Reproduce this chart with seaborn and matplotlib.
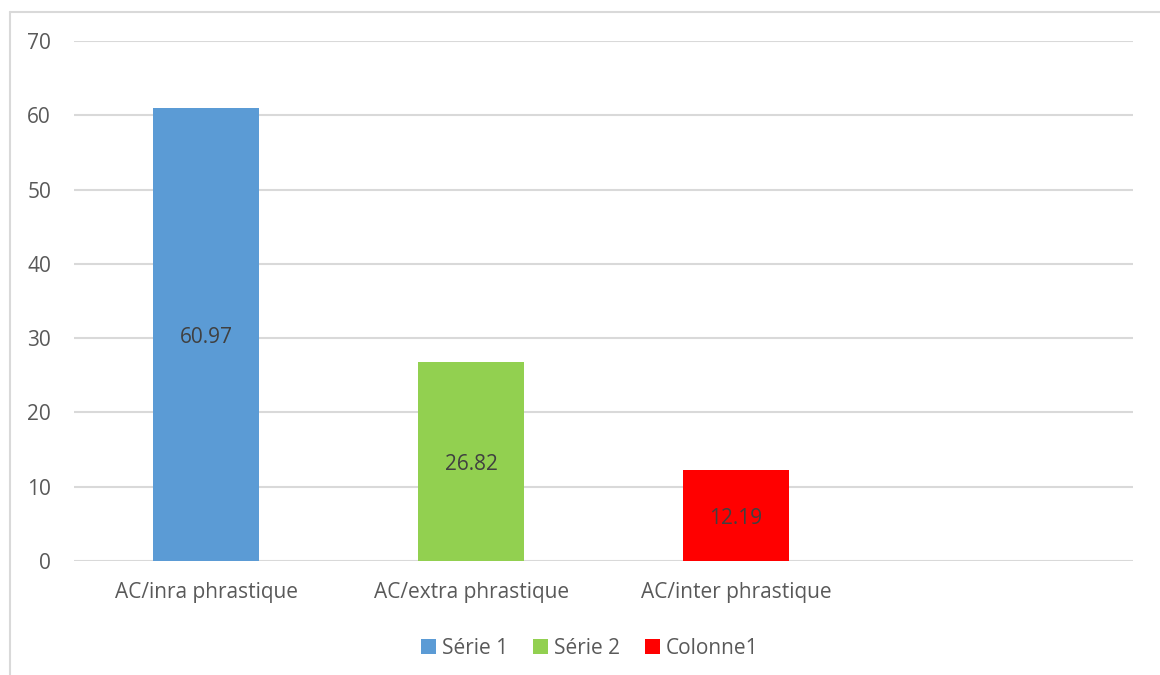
import matplotlib
matplotlib.use("Agg")
import matplotlib.pyplot as plt
import seaborn as sns
import pandas as pd
from matplotlib.lines import Line2D

categories = ["AC/inra phrastique", "AC/extra phrastique", "AC/inter phrastique"]
values = [60.97, 26.82, 12.19]
series = ["Série 1", "Série 2", "Colonne1"]
colors = ["#5B9BD5", "#92D050", "#FF0000"]
yticks = [0, 10, 20, 30, 40, 50, 60, 70]

sns.set_theme(style="white")
plt.rcParams["font.family"] = ["Open Sans", "DejaVu Sans"]

df = pd.DataFrame({"cat": categories, "val": values, "series": series})

fig = plt.figure(figsize=(11.6, 6.75), dpi=100)
ax = fig.add_axes([74/1160, 1 - 561/675, (1133-74)/1160, (561-41)/675])

sns.barplot(data=df, x="cat", y="val", hue="series", order=categories,
            hue_order=series, palette=colors, dodge=False, width=0.4,
            saturation=1, ax=ax, legend=True, linewidth=0, edgecolor="none")

ax.set_xlim(-0.5, 3.5)
ax.set_ylim(0, 70)
ax.set_yticks(yticks)
ax.set_yticklabels([str(t) for t in yticks])
ax.yaxis.grid(True, color="#D9D9D9", linewidth=1.5)
ax.set_axisbelow(True)
for s in ax.spines.values():
    s.set_visible(False)
ax.tick_params(axis="both", length=0, labelsize=15, colors="#595959")
ax.tick_params(axis="y", pad=16.5)
ax.tick_params(axis="x", pad=15)
ax.set_xlabel("")
ax.set_ylabel("")

for container in ax.containers:
    for bar in container:
        h = bar.get_height()
        if h and h > 0:
            ax.text(bar.get_x() + bar.get_width()/2, h/2 - 0.4, f"{h:.2f}",
                    ha="center", va="center", fontsize=15, color="#404040")

handles, labels = ax.get_legend_handles_labels()
ax.legend(handles, labels, loc="center",
          bbox_to_anchor=((590-74)/1059, (675-648 - (675-561))/(561-41)),
          ncol=3, frameon=False, fontsize=15, labelcolor="#595959",
          handlelength=0.7, handleheight=0.7, handletextpad=0.3, columnspacing=1.2)

border = "#D9D9D9"
fig.add_artist(Line2D([10/1160, 10/1160], [0, 1 - 11.5/675], color=border, linewidth=1.5))
fig.add_artist(Line2D([10/1160, 1], [1 - 11.5/675, 1 - 11.5/675], color=border, linewidth=1.5))

fig.savefig("out.png", dpi=100, facecolor="white")
